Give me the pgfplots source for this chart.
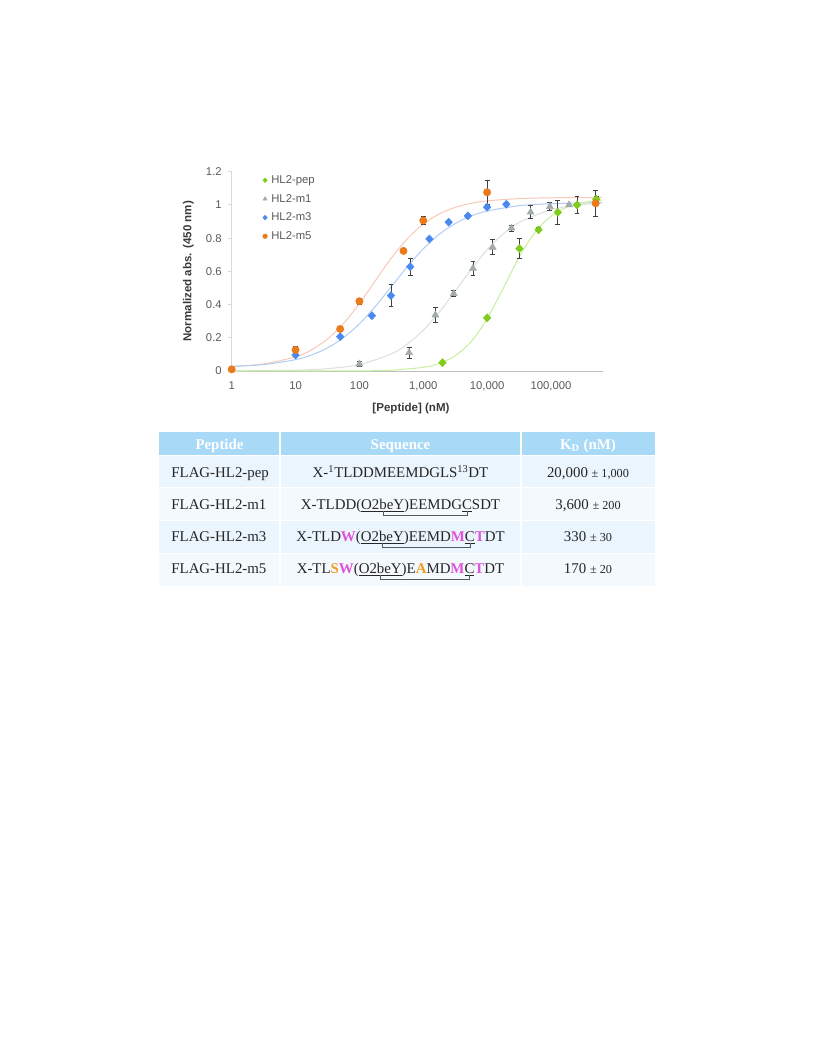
\documentclass[border=0pt]{standalone}
\usepackage{pgfplots}
\pgfplotsset{compat=1.18}
\usepackage{fontspec}
\setmainfont{Liberation Sans}
\newfontfamily\tnr{Liberation Serif}

\definecolor{pepc}{HTML}{7FCC1C}
\definecolor{pepl}{HTML}{C6EFA0}
\definecolor{m1c}{HTML}{A3ABAA}
\definecolor{m1l}{HTML}{DCDFDF}
\definecolor{m3c}{HTML}{4A8AF0}
\definecolor{m3l}{HTML}{B0CDF2}
\definecolor{m5c}{HTML}{EB7A1A}
\definecolor{m5l}{HTML}{F7C9B8}
\definecolor{errc}{HTML}{404040}
\definecolor{xaxc}{HTML}{BFBFBF}
\definecolor{yaxc}{HTML}{D9D9D9}
\definecolor{tickc}{HTML}{595959}
\definecolor{labc}{HTML}{3A3A3A}
\definecolor{hdrc}{HTML}{A8DAF8}
\definecolor{rowa}{HTML}{EAF5FD}
\definecolor{rowb}{HTML}{F4F9FE}
\definecolor{txtc}{HTML}{262626}
\definecolor{magc}{HTML}{DE52DE}
\definecolor{ornc}{HTML}{F29B1E}
\definecolor{brkc}{HTML}{595959}

\newcommand\seqfont{\tnr\fontsize{11.2}{13}\selectfont}
\newcommand\pmfont{\tnr\fontsize{9.2}{11}\selectfont}

% one sequence row: y, full text (for width), part before O2, part after ")", part after C
\newcommand\seqrow[5]{%
  \node[seq, anchor=base] (P) at (400.5,#1) {\phantom{#2}};
  \node[seq] (A) at (P.base west) {#3\underline{O2}};
  \node[seq] (B) at (A.base east) {\underline{beY}};
  \node[seq] (C) at (B.base east) {)#4};
  \node[seq] (D) at (C.base east) {\underline{C}};
  \node[seq] (E) at (D.base east) {#5};
  \draw[brk] ([xshift=2.8pt,yshift=-1.8pt]B.base west) -- ++(0,-3pt) -| ([yshift=-1.8pt]D.base);
}

\begin{document}
\begin{tikzpicture}
\path[use as bounding box] (0,0) rectangle (612bp,-792bp);

\begin{axis}[
    at={(173.775bp,-278.25bp)}, anchor=south west,
    scale only axis, width=278.7bp, height=149.5bp,
    xmode=log, xmin=1, xmax=660000, ymin=0, ymax=1.2,
    axis lines*=left,
    x axis line style={draw=xaxc, line width=0.75pt},
    y axis line style={draw=yaxc, line width=0.75pt},
    xtick={1,10,100,1000,10000,100000},
    xticklabels={1,10,100,{1,000},{10,000},{100,000}},
    ytick={0,0.2,0.4,0.6,0.8,1,1.2},
    yticklabels={0,0.2,0.4,0.6,0.8,1,1.2},
    minor tick num=0,
    minor tick style={draw=none},
    xtick style={draw=none},
    ytick style={draw=yaxc, line width=0.75pt},
    tick align=outside, major tick length=3bp,
    tick label style={font=\fontsize{8.5}{10}\selectfont, text=tickc},
    xticklabel style={yshift=-1.5bp},
    yticklabel style={xshift=-1bp},
    /pgf/number format/assume math mode=true,
    xlabel={{[}Peptide{]} (nM)},
    ylabel={Normalized abs. (450 nm)},
    label style={font=\bfseries\fontsize{8.7}{10}\selectfont, text=labc},
    xlabel style={at={(axis description cs:0.4825,-0.1857)}, anchor=center},
    ylabel style={at={(axis description cs:-0.1168,0.5)}, anchor=center},
    legend style={at={(axis description cs:0.083,0.995)}, anchor=north west,
      draw=none, fill=none, font=\fontsize{8.5}{10}\selectfont, text=tickc,
      row sep=3bp, inner sep=0pt,
      nodes={inner sep=1.5bp, text height=6.5bp, text depth=1.5bp},
      /tikz/every odd column/.append style={column sep=1.5bp}},
    legend cell align=left,
    legend image code/.code={\draw[#1, mark size=1.7bp] plot coordinates {(0bp,0bp)};},
    clip=false,
  ]

  % fitted curves
  \addplot[m5l, line width=0.75bp, smooth, forget plot] coordinates {
    (1,0.0277) (3.162,0.0428) (10,0.0851) (17.78,0.1276) (31.62,0.1926)
    (56.23,0.2857) (100,0.4062) (177.8,0.5438) (316.2,0.6796) (562.3,0.7962)
    (1000,0.8846) (1778,0.9456) (3162,0.985) (5623,1.0094) (10000,1.0241)
    (31623,1.0379) (100000,1.0426) (316228,1.0442) (630957,1.0446)};
  \addplot[m3l, line width=0.75bp, smooth, forget plot] coordinates {
    (1,0.0271) (3.162,0.0387) (10,0.0683) (17.78,0.0965) (31.62,0.139)
    (56.23,0.2005) (100,0.284) (177.8,0.389) (316.2,0.508) (562.3,0.628)
    (1000,0.735) (1778,0.823) (3162,0.8875) (5623,0.933) (10000,0.963)
    (31623,0.995) (100000,1.007) (316228,1.012) (630957,1.0134)};
  \addplot[m1l, line width=0.75bp, smooth, forget plot] coordinates {
    (1,0.0006) (10,0.0051) (31.62,0.0142) (100,0.039) (316.2,0.103)
    (562.3,0.162) (1000,0.245) (1778,0.354) (3162,0.481) (5623,0.611)
    (10000,0.73) (17783,0.825) (31623,0.894) (100000,0.971) (316228,1.002)
    (630957,1.0104)};
  \addplot[pepl, line width=0.75bp, smooth, forget plot] coordinates {
    (1,0) (100,0.0011) (316.2,0.005) (1000,0.0221) (1778,0.0456)
    (3162,0.0918) (5623,0.1767) (10000,0.314) (17783,0.4966) (31623,0.685)
    (56234,0.835) (100000,0.932) (177828,0.986) (316228,1.0137) (630957,1.029)};

  % measured points
  \addplot[only marks, mark=diamond*, mark size=3bp, color=pepc,
    mark options={xscale=1.25},
    error bars/.cd, y dir=both, y explicit,
    error bar style={errc, line width=0.6bp},
    error mark options={rotate=90, errc, mark size=1.8bp, line width=0.6bp}]
    table[x=x, y=y, y error=e] {
    x y e
    2000 0.05 0
    10000 0.32 0
    32000 0.737 0.06
    64000 0.85 0.012
    128000 0.955 0.07
    256000 1.0 0.053
    512000 1.034 0.015
  };
  \addlegendentry{HL2-pep}

  \addplot[only marks, mark=triangle*, mark size=3bp, color=m1c,
    error bars/.cd, y dir=both, y explicit,
    error bar style={errc, line width=0.6bp},
    error mark options={rotate=90, errc, mark size=1.8bp, line width=0.6bp}]
    table[x=x, y=y, y error=e] {
    x y e
    100 0.042 0.015
    600 0.11 0.032
    1550 0.337 0.047
    3000 0.466 0.018
    6000 0.618 0.04
    12200 0.745 0.045
    24000 0.86 0.018
    48000 0.956 0.038
    96000 0.99 0.022
    192000 1.0 0.01
  };
  \addlegendentry{HL2-m1}

  \addplot[only marks, mark=diamond*, mark size=3bp, color=m3c,
    mark options={xscale=1.25},
    error bars/.cd, y dir=both, y explicit,
    error bar style={errc, line width=0.6bp},
    error mark options={rotate=90, errc, mark size=1.8bp, line width=0.6bp}]
    table[x=x, y=y, y error=e] {
    x y e
    10 0.096 0.01
    50 0.207 0.01
    157 0.333 0
    312 0.454 0.065
    625 0.628 0.05
    1250 0.795 0.01
    2500 0.896 0.01
    5000 0.934 0.01
    10000 0.986 0.01
    20000 1.004 0.01
  };
  \addlegendentry{HL2-m3}

  \addplot[only marks, mark=*, mark size=2.75bp, color=m5c,
    error bars/.cd, y dir=both, y explicit,
    error bar style={errc, line width=0.6bp},
    error mark options={rotate=90, errc, mark size=1.8bp, line width=0.6bp}]
    table[x=x, y=y, y error=e] {
    x y e
    1 0.01 0
    10 0.127 0.022
    50 0.253 0.015
    100 0.42 0.02
    490 0.723 0
    1000 0.906 0.022
    10000 1.076 0.071
    500000 1.01 0.078
  };
  \addlegendentry{HL2-m5}
\end{axis}

% table below the chart, in pixel units of the page
\begin{scope}[x=0.75bp, y=-0.75bp,
    seq/.style={inner sep=0pt, outer sep=0pt, anchor=base west, font=\seqfont, text=txtc},
    brk/.style={draw=brkc, line width=0.6bp}]
  \fill[hdrc] (159,432.3) rectangle (655,455.7);
  \fill[rowa] (159,455.7) rectangle (655,487.7);
  \fill[rowb] (159,487.7) rectangle (655,520);
  \fill[rowa] (159,520) rectangle (655,553.3);
  \fill[rowb] (159,553.3) rectangle (655,585.7);
  \draw[white, line width=0.75bp] (159,455.7) -- (655,455.7)
    (159,487.7) -- (655,487.7) (159,520) -- (655,520) (159,553.3) -- (655,553.3);
  \draw[white, line width=1bp] (280,432.3) -- (280,585.7) (521,432.3) -- (521,585.7);

  \begin{scope}[every node/.style={anchor=base, text=white, font=\tnr\bfseries\fontsize{11.2}{13}\selectfont}]
    \node at (219.5,449) {Peptide};
    \node at (400.5,449) {Sequence};
    \node at (588,449) {K\textsubscript{D} (nM)};
  \end{scope}

  \begin{scope}[every node/.style={anchor=base west, text=txtc, font=\seqfont}]
    \node at (166.7,477.5) {FLAG-HL2-pep};
    \node at (166.7,509) {FLAG-HL2-m1};
    \node at (166.7,541) {FLAG-HL2-m3};
    \node at (166.7,573) {FLAG-HL2-m5};
  \end{scope}

  \begin{scope}[every node/.style={anchor=base, text=txtc, font=\seqfont}]
    \node at (588,477.5) {20,000 {\pmfont ± 1,000}};
    \node at (588,509) {3,600 {\pmfont ± 200}};
    \node at (588,541) {330 {\pmfont ± 30}};
    \node at (588,573) {170 {\pmfont ± 20}};
  \end{scope}

  \node[seq, anchor=base] at (400.5,477.5) {X-\textsuperscript{1}TLDDMEEMDGLS\textsuperscript{13}DT};
  \seqrow{509}{X-TLDD(O2beY)EEMDGCSDT}{X-TLDD(}{EEMDG}{SDT}
  \seqrow{541}{X-TLD\textbf{W}(O2beY)EEMD\textbf{M}C\textbf{T}DT}%
    {X-TLD\textcolor{magc}{\textbf{W}}(}{EEMD\textcolor{magc}{\textbf{M}}}{\textcolor{magc}{\textbf{T}}DT}
  \seqrow{573}{X-TL\textbf{SW}(O2beY)E\textbf{A}MD\textbf{M}C\textbf{T}DT}%
    {X-TL\textcolor{ornc}{\textbf{S}}\textcolor{magc}{\textbf{W}}(}{E\textcolor{ornc}{\textbf{A}}MD\textcolor{magc}{\textbf{M}}}{\textcolor{magc}{\textbf{T}}DT}
\end{scope}
\end{tikzpicture}
\end{document}
